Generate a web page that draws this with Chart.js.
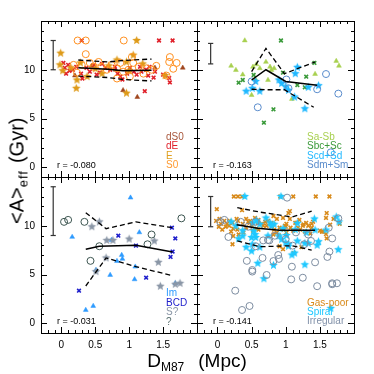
<!DOCTYPE html>
<html>
<head>
<meta charset="utf-8">
<script src="https://cdn.jsdelivr.net/npm/chart.js@4"></script>
<style>
  body { margin: 0; background: #fff; }
  #wrap { position: relative; width: 374px; height: 374px; font-family: "Liberation Sans", Arial, sans-serif; }
  #wrap canvas { position: absolute; left: 0; top: 0; }
  .lab { position: absolute; white-space: nowrap; }
  .leg { position: absolute; font-size: 10px; line-height: 9.3px; white-space: nowrap; }
  .rr { position: absolute; font-size: 9px; line-height: 10px; color: #000; white-space: nowrap; }
  sub { font-size: 12px; vertical-align: -4px; line-height: 0; }
</style>
</head>
<body>
<div id="wrap">
  <canvas id="c1" width="374" height="374"></canvas>
  <canvas id="c2" width="374" height="374"></canvas>
  <canvas id="c3" width="374" height="374"></canvas>
  <canvas id="c4" width="374" height="374"></canvas>

  <div class="lab" style="left:0;top:0;font-size:20px;line-height:20px;transform-origin:0 0;transform:translate(6.5px,224px) rotate(-90deg);">&lt;A&gt;<sub style="font-size:13px;letter-spacing:1px">eff</sub><span style="margin-left:7px">(Gyr)</span></div>
  <div class="lab" style="left:197px;top:351px;font-size:19px;line-height:19px;transform:translateX(-50%);">D<sub>M87</sub><span style="margin-left:14px">(Mpc)</span></div>

  <div class="leg" style="left:166px;top:132px;">
    <div style="color:#A8553A">dS0</div><div style="color:#E0202A">dE</div><div style="color:#E0A020">E</div><div style="color:#FF9A30">S0</div>
  </div>
  <div class="leg" style="left:307px;top:132px;">
    <div style="color:#A8D050">Sa-Sb</div><div style="color:#3A9A3A">Sbc+Sc</div><div style="color:#20B8FF">Scd+Sd</div><div style="color:#5A8CCC">Sdm+Sm</div>
  </div>
  <div class="leg" style="left:166px;top:288px;line-height:9.7px;">
    <div style="color:#2E9BFF">Im</div><div style="color:#2020CC">BCD</div><div style="color:#8A96A6">S?</div><div style="color:#5A7070">?</div>
  </div>
  <div class="leg" style="left:307px;top:298px;line-height:9px;">
    <div style="color:#D88A1A">Gas-poor</div><div style="color:#1EC8FF">Spiral</div><div style="color:#8090A8">Irregular</div>
  </div>

  <div class="rr" style="left:57px;top:160px;">r = -0.080</div>
  <div class="rr" style="left:213px;top:160px;">r = -0.163</div>
  <div class="rr" style="left:57px;top:316px;">r = -0.031</div>
  <div class="rr" style="left:213px;top:316px;">r = -0.141</div>
</div>

<script>
// axis ticks
const xTicks = [0, 0.5, 1, 1.5];
const yTicks = [0, 5, 10];
const FONT = '"Liberation Sans", Arial, sans-serif';

// --- top left: gas-poor types [D_M87, age]
const dS0 = [[0.91,7.9],[1.12,7.2],[1.79,10.2],[0.45,10.4],[0.80,10.0],[1.38,10.2],[0.20,9.4]];
const dE = [[0.03,10.7],[0.10,10.5],[0.07,9.6],[0.17,10.0],[0.22,10.3],[0.29,9.6],[0.31,9.1],[0.37,10.2],
  [0.42,9.8],[0.48,10.5],[0.52,9.5],[0.57,9.7],[0.65,10.2],[0.72,10.0],[0.79,10.3],[0.87,9.3],[0.90,9.0],
  [0.97,9.6],[1.01,10.2],[1.07,9.8],[1.11,9.5],[1.16,10.3],[1.18,9.8],[1.25,10.0],[1.28,9.4],[1.36,9.2],
  [1.38,9.8],[0.30,13.0],[1.44,13.0],[1.64,13.0],[1.23,7.8],[1.59,9.15],[1.60,8.7],[0.12,9.9],[0.05,10.2],
  [0.60,10.6],[0.83,9.6],[1.30,10.3],[1.50,9.5],[1.53,9.4]];
const ellE = [[-0.01,11.7],[0.02,9.9],[-0.02,10.5],[0.22,8.1],[0.96,7.6],[1.11,13.0],[0.23,8.95],[0.28,10.7],
  [0.82,11.0],[0.96,10.8],[1.06,11.5],[0.50,10.1],[0.60,9.6],[0.14,10.2],[0.38,9.3],[1.00,9.9],[1.20,10.6],
  [0.70,10.4],[1.53,9.4]];
const S0 = [[0.24,13.0],[0.36,13.0],[0.92,13.0],[0.36,11.6],[1.04,11.3],[1.60,11.3],[1.59,10.8],[1.70,10.7],
  [1.65,10.1],[1.40,10.4],[1.55,9.4],[0.30,10.5],[0.42,10.7],[0.47,10.3],[0.55,10.8],[0.59,10.3],[0.67,10.0],
  [0.74,10.5],[0.82,10.15],[0.87,10.7],[0.91,9.8],[0.99,10.0],[1.06,10.7],[1.14,10.3],[1.21,9.6],[1.26,10.15],
  [1.33,10.0],[0.18,10.5],[0.23,9.7],[0.82,9.1],[1.01,9.3]];
const tlMed = [[0.25,10.2],[0.69,10.05],[0.91,9.9],[1.33,9.95]];
const tlHi = [[0.25,11.0],[0.69,10.8],[0.91,10.95],[1.33,11.1]];
const tlLo = [[0.25,9.35],[0.69,9.2],[0.91,9.0],[1.33,8.85]];

// --- top right: spirals
const saSb = [[0.40,13.0],[0.20,10.4],[0.27,9.97],[0.37,9.5],[0.52,10.3],[0.57,10.55],[0.62,10.15],[0.71,10.8],
  [0.77,10.3],[0.79,9.97],[0.83,10.15],[0.74,8.95],[0.50,7.4],[1.09,7.0],[1.43,9.56],[1.74,10.9],[1.78,10.4],[0.55,9.1]];
const sbcSc = [[0.93,13.0],[0.37,8.95],[0.31,8.67],[0.53,9.46],[0.82,5.94],[0.68,4.57],[0.96,9.7],[1.30,9.29],
  [1.42,10.7],[1.17,8.43],[1.28,8.2]];
const scdSd = [[0.42,7.8],[0.51,8.1],[0.62,7.8],[0.56,8.8],[0.90,8.95],[0.94,8.6],[1.00,8.26],[1.04,7.9],
  [1.13,7.2],[1.17,10.25],[1.14,9.6],[1.33,8.2],[1.48,8.37],[1.28,6.0]];
const sdmSm = [[0.50,8.8],[0.59,6.15],[1.01,9.0],[1.04,8.1],[1.46,8.0],[1.59,9.56],[1.77,7.55],[1.66,1.53]];
const trMed = [[0.50,8.95],[0.71,10.0],[1.00,8.8],[1.46,8.4]];
const trHi = [[0.50,9.8],[0.71,12.2],[0.98,9.6],[1.43,10.8]];
const trLo = [[0.50,8.0],[0.71,7.95],[0.98,7.95],[1.41,6.15]];

// --- bottom left: irregulars / unknown
const im = [[1.02,12.88],[0.16,8.85],[0.74,8.54],[1.15,9.32],[0.89,7.0],[0.82,6.38],[0.90,6.6],[0.51,5.46],
  [0.72,4.95],[1.09,5.8],[1.08,4.5],[1.68,4.1],[0.36,1.36],[0.47,1.77]];
const bcd = [[0.84,8.98],[1.10,7.96],[1.63,9.8],[1.68,8.7],[1.64,7.35],[1.61,6.8],[1.25,4.67],[0.26,3.34]];
const sQ = [[0.45,9.9],[0.56,10.4],[0.67,8.5],[0.76,8.5],[1.00,8.64],[1.37,8.44],[0.66,6.7],[1.43,6.25],
  [1.46,3.8],[1.68,4.0],[1.75,4.1],[0.51,5.3]];
const unk = [[0.04,10.4],[0.10,10.6],[0.34,10.4],[0.56,7.9],[0.43,6.4],[1.33,9.1],[1.27,8.1],[1.77,10.76]];
const blMed = [[0.36,7.6],[0.56,7.9],[1.10,8.0],[1.64,7.3]];
const blHi = [[0.36,11.34],[0.66,9.7],[1.10,10.4],[1.64,9.8]];
const blLo = [[0.36,3.82],[0.66,6.7],[1.10,5.8],[1.64,4.88]];

// --- bottom right: all galaxies by broad class
const gasPoor = [...dS0, ...dE, ...ellE, ...S0];
const spiral = [...saSb, ...sbcSc, ...scdSd, ...sdmSm];
const irregular = [...im, ...bcd, ...sQ, ...unk];
const brMed = [[0.28,10.1],[0.59,9.75],[0.91,9.55],[1.43,9.55]];
const brHi = [[0.29,11.85],[0.62,11.4],[1.09,10.9],[1.38,11.5]];
const brLo = [[0.29,8.45],[0.62,7.85],[1.09,7.95],[1.38,7.5]];

// typical error bar [x, low, high]
const errTL = [-0.12, 10.0, 13.0];
const errTR = [-0.10, 10.6, 12.7];
const errBL = [-0.12, 9.0, 14.0];
const errBR = [-0.10, 9.9, 13.0];

const pts = a => a.map(([x, y]) => ({x, y}));

function starImg(color, r) {
    const c = document.createElement('canvas');
    const s = Math.ceil(r * 2) + 2;
    c.width = c.height = s;
    const g = c.getContext('2d');
    g.fillStyle = color;
    g.beginPath();
    for (let i = 0; i < 10; i++) {
        const rad = i % 2 === 0 ? r : r * 0.45;
        const a = -Math.PI / 2 + i * Math.PI / 5;
        g.lineTo(s / 2 + rad * Math.cos(a), s / 2 + rad * Math.sin(a));
    }
    g.closePath();
    g.fill();
    return c;
}

const tri = (d, c) => ({ data: pts(d), pointStyle: 'triangle', pointRadius: 2.8, backgroundColor: c, borderColor: c, borderWidth: 0.5 });
const cross = (d, c) => ({ data: pts(d), pointStyle: 'crossRot', pointRadius: 2.6, borderColor: c, borderWidth: 1.6 });
const circ = (d, c) => ({ data: pts(d), pointStyle: 'circle', pointRadius: 3.5, backgroundColor: 'rgba(0,0,0,0)', borderColor: c, borderWidth: 1 });
const star = (d, c) => ({ data: pts(d), pointStyle: starImg(c, 4.5), pointRadius: 4 });
const line = (d, dashed) => ({ data: pts(d), showLine: true, borderColor: '#000', borderWidth: dashed ? 1.3 : 1.5,
    borderDash: dashed ? [5, 3] : [], pointRadius: 0 });
const errBar = ([x, lo, hi]) => ({ data: [{x, y: lo}, {x, y: hi}], showLine: true, borderColor: '#333', borderWidth: 1.2,
    pointStyle: 'line', pointRadius: 2.6, pointBorderColor: '#333', pointBorderWidth: 1.2 });

// box + inward ticks on all four sides
const frame = {
    id: 'frame',
    afterDraw(chart) {
        const { ctx, chartArea: a, scales: { x, y } } = chart;
        ctx.save();
        ctx.strokeStyle = '#000';
        ctx.lineWidth = 1;
        ctx.strokeRect(a.left + 0.5, a.top + 0.5, a.width, a.height);
        ctx.beginPath();
        for (let i = -3; i <= 20; i++) {
            const px = Math.round(x.getPixelForValue(i / 10)) + 0.5;
            const len = i % 5 === 0 ? 6 : 3;
            ctx.moveTo(px, a.bottom); ctx.lineTo(px, a.bottom - len);
            ctx.moveTo(px, a.top); ctx.lineTo(px, a.top + len);
        }
        for (let v = -1; v <= 15; v++) {
            const py = Math.round(y.getPixelForValue(v)) + 0.5;
            const len = v % 5 === 0 ? 6 : 3;
            ctx.moveTo(a.left, py); ctx.lineTo(a.left + len, py);
            ctx.moveTo(a.right, py); ctx.lineTo(a.right - len, py);
        }
        ctx.stroke();
        ctx.restore();
    }
};

// box = panel edges in page pixels; labelled axes take the whole margin as their own size
function makeChart(id, box, showX, showY, datasets) {
    const W = 374, H = 374;
    const pad = {
        left: showY ? 0 : box.l,
        top: box.t,
        right: W - box.r,
        bottom: showX ? 0 : H - box.b
    };
    return new Chart(document.getElementById(id), {
        type: 'scatter',
        data: { datasets },
        options: {
            responsive: false,
            animation: false,
            devicePixelRatio: 1,
            layout: { padding: pad, autoPadding: false },
            plugins: { legend: { display: false }, tooltip: { enabled: false } },
            scales: {
                x: {
                    type: 'linear', min: -0.3, max: 2.0,
                    grid: { display: false, drawTicks: false }, border: { display: false },
                    afterBuildTicks: s => { s.ticks = xTicks.map(v => ({ value: v })); },
                    afterFit: s => { s.height = showX ? H - box.b : 0; },
                    ticks: { display: showX, padding: 6, color: '#000', autoSkip: false, maxRotation: 0,
                        font: { size: 10, family: FONT }, callback: v => String(v) }
                },
                y: {
                    type: 'linear', min: -1, max: 15,
                    grid: { display: false, drawTicks: false }, border: { display: false },
                    afterBuildTicks: s => { s.ticks = yTicks.map(v => ({ value: v })); },
                    afterFit: s => { s.width = showY ? box.l : 0; },
                    ticks: { display: showY, padding: 6, color: '#000', autoSkip: false,
                        font: { size: 10, family: FONT }, callback: v => String(v) }
                }
            }
        },
        plugins: [frame]
    });
}

makeChart('c1', { l: 41, t: 21, r: 197, b: 177 }, false, true, [
    line(tlMed, false), line(tlHi, true), line(tlLo, true), errBar(errTL),
    circ(S0, '#FF9020'), star(ellE, '#DE9A18'), cross(dE, '#E0202A'), tri(dS0, '#A0461E')
]);
makeChart('c2', { l: 197, t: 21, r: 354, b: 177 }, false, false, [
    line(trMed, false), line(trHi, true), line(trLo, true), errBar(errTR),
    circ(sdmSm, '#5A8CCC'), star(scdSd, '#20B8FF'), cross(sbcSc, '#3A9A3A'), tri(saSb, '#A8D050')
]);
makeChart('c3', { l: 41, t: 177, r: 197, b: 333 }, true, true, [
    line(blMed, false), line(blHi, true), line(blLo, true), errBar(errBL),
    circ(unk, '#3C5550'), star(sQ, '#8A96A6'), cross(bcd, '#2020CC'), tri(im, '#2E9BFF')
]);
makeChart('c4', { l: 197, t: 177, r: 354, b: 333 }, true, false, [
    line(brMed, false), line(brHi, true), line(brLo, true), errBar(errBR),
    circ(irregular, '#7C8CA0'), star(spiral, '#1EC8FF'), cross(gasPoor, '#D88A1A')
]);
</script>
</body>
</html>
